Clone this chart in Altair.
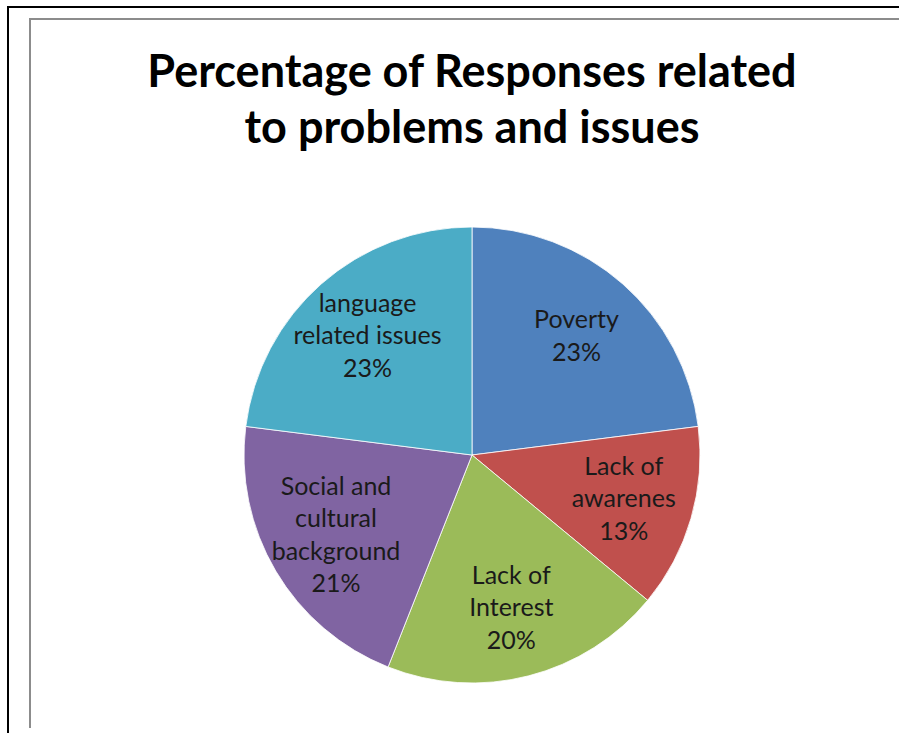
import altair as alt
import pandas as pd

# ---- data ----
categories = ["Poverty", "Lack of awarenes", "Lack of Interest",
              "Social and cultural background", "language related issues"]
label_lines = [["Poverty"], ["Lack of", "awarenes"], ["Lack of", "Interest"],
               ["Social and", "cultural", "background"], ["language", "related issues"]]
values = [23, 13, 20, 21, 23]
colors = ["#4F81BD", "#C0504D", "#9BBB59", "#8064A2", "#4BACC6"]
title_lines = ["Percentage of Responses related", "to problems and issues"]

total = sum(values)
df = pd.DataFrame({
    "category": categories,
    "value": values,
    "idx": list(range(len(categories))),
    "label": ["\n".join(l + [f"{v}%"]) for l, v in zip(label_lines, values)],
    "nlines": [len(l) + 1 for l in label_lines],
})

W, H = 899, 733
CX, CY = 472, 455
R = 228
LH = 32.5

base = alt.Chart(df)

pie = base.mark_arc(radius=R, stroke="#ffffff", strokeWidth=0.8).encode(
    theta=alt.Theta("value:Q", stack=True),
    color=alt.Color("category:N", sort=None,
                    scale=alt.Scale(domain=categories, range=colors), legend=None),
    order=alt.Order("idx:Q"),
    x=alt.value(CX), y=alt.value(CY),
)

# label angle = middle of each slice, computed from the data
label_base = base.transform_window(
    cum="sum(value)", sort=[alt.SortField("idx")]
).transform_calculate(mid="datum.cum - datum.value / 2")

label_layers = []
for n in sorted(set(df["nlines"])):
    label_layers.append(
        label_base.transform_filter(alt.datum.nlines == n).mark_text(
            radius=158, fontSize=25, font="Lato", lineBreak="\n",
            lineHeight=LH, color="#1a1a1a", align="center", baseline="middle",
            dy=-(n - 1) * LH / 2,
        ).encode(
            theta=alt.Theta("mid:Q", scale=alt.Scale(domain=[0, total])),
            text="label:N",
            x=alt.value(CX), y=alt.value(CY),
        )
    )

title = alt.Chart(pd.DataFrame({"t": ["\n".join(title_lines)]})).mark_text(
    font="Lato", fontSize=45, fontWeight="bold", color="#000000",
    align="center", baseline="alphabetic", lineBreak="\n", lineHeight=56,
).encode(text="t:N", x=alt.value(472), y=alt.value(87))

# frame lines (decoration, as in the screenshot)
frame = pd.DataFrame({"k": [0]})
black_v = alt.Chart(frame).mark_rule(color="#000000", strokeWidth=2).encode(
    x=alt.value(8), y=alt.value(7), y2=alt.value(H + 10))
black_h = alt.Chart(frame).mark_rule(color="#000000", strokeWidth=2).encode(
    y=alt.value(7), x=alt.value(7), x2=alt.value(W + 10))
gray_v = alt.Chart(frame).mark_rule(color="#8c8c8c", strokeWidth=2).encode(
    x=alt.value(30), y=alt.value(19), y2=alt.value(728))
gray_h = alt.Chart(frame).mark_rule(color="#8c8c8c", strokeWidth=2).encode(
    y=alt.value(19), x=alt.value(29), x2=alt.value(W + 10))

chart = alt.layer(black_v, black_h, gray_v, gray_h, pie, *label_layers, title).properties(
    width=W, height=H,
    padding=0,
    autosize=alt.AutoSizeParams(type="none"),
    background="#ffffff",
).configure_view(stroke=None)

chart.save("out.html", embed_options={"renderer": "svg", "actions": False})
